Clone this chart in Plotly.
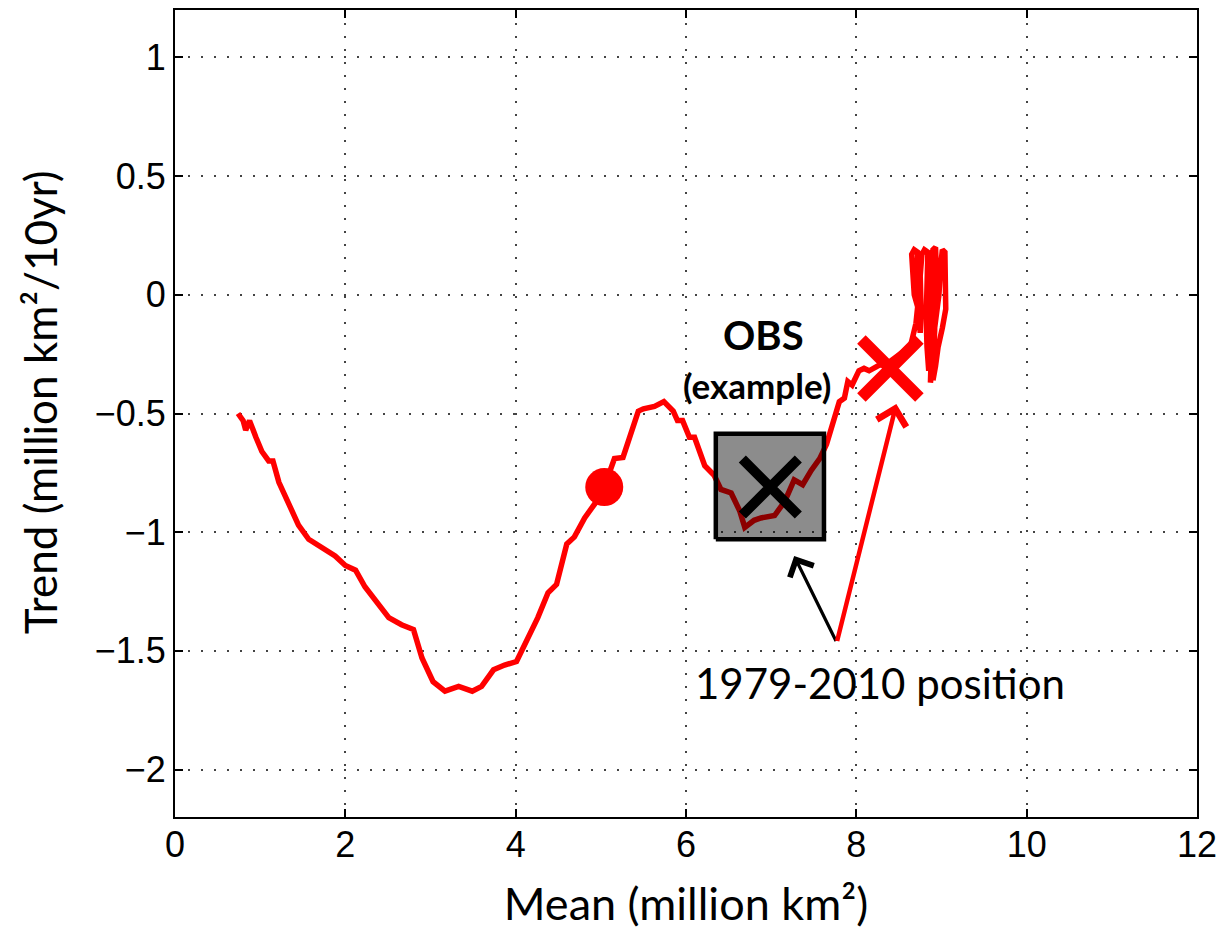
import plotly.graph_objects as go

# ---- data ----
mean_vals = [0.74, 0.80, 0.83, 0.875, 0.95, 1.02, 1.10, 1.15, 1.22, 1.34, 1.45, 1.57, 1.66, 1.78, 1.88,
             2.00, 2.12, 2.23, 2.39, 2.51, 2.66, 2.80, 2.90, 3.03, 3.17, 3.33, 3.49, 3.60, 3.74, 3.87,
             4.01, 4.15, 4.26, 4.38, 4.48, 4.60, 4.69, 4.81, 4.93, 5.05, 5.16, 5.26, 5.40, 5.44, 5.50,
             5.63, 5.74, 5.85, 5.90, 5.96, 6.04, 6.10, 6.22, 6.33, 6.41, 6.53, 6.63, 6.69, 6.80, 6.88,
             7.04, 7.16, 7.27, 7.37, 7.47, 7.57, 7.65, 7.72, 7.80, 7.86, 7.90, 7.95, 8.03, 8.09, 8.15,
             8.25, 8.40, 8.55, 8.64, 8.70, 8.72, 8.68, 8.67, 8.65, 8.68, 8.72, 8.71, 8.73, 8.75, 8.76,
             8.75, 8.77, 8.80, 8.84, 8.83, 8.82, 8.83, 8.85, 8.86, 8.87, 8.88, 8.90, 8.93, 8.94, 8.92,
             8.92, 8.90, 8.87, 8.88, 8.93, 8.97, 8.99, 9.01, 9.04, 9.04, 9.05, 9.01, 8.96, 8.93, 8.90]
trend_vals = [-0.50, -0.53, -0.57, -0.53, -0.60, -0.66, -0.70, -0.70, -0.79, -0.89, -0.97, -1.03, -1.05, -1.08, -1.10,
              -1.14, -1.16, -1.23, -1.30, -1.36, -1.39, -1.41, -1.53, -1.63, -1.67, -1.65, -1.67, -1.65, -1.58, -1.56,
              -1.545, -1.44, -1.36, -1.255, -1.22, -1.05, -1.02, -0.94, -0.88, -0.80, -0.69, -0.685, -0.53, -0.49, -0.48,
              -0.47, -0.45, -0.49, -0.53, -0.53, -0.60, -0.60, -0.72, -0.76, -0.82, -0.835, -0.91, -0.98, -0.95, -0.94,
              -0.93, -0.87, -0.78, -0.80, -0.74, -0.69, -0.63, -0.55, -0.45, -0.435, -0.365, -0.38, -0.32, -0.31, -0.32,
              -0.30, -0.28, -0.24, -0.21, -0.12, -0.05, 0.00, 0.08, 0.17, 0.19, 0.18, 0.05, -0.10, -0.16, -0.05,
              0.08, 0.17, 0.19, 0.18, 0.05, -0.10, -0.22, -0.32, -0.20, -0.05, 0.10, 0.19, 0.20, 0.10, 0.00,
              -0.15, -0.28, -0.37, -0.25, -0.12, 0.00, 0.12, 0.19, 0.18, 0.05, -0.06, -0.14, -0.22, -0.30, -0.36]

dot_point = (5.04, -0.81)            # filled red circle
model_x_point = (8.40, -0.31)        # red cross
obs_point = (6.99, -0.81)            # black cross (observations)
obs_box_x = [6.35, 7.62]             # grey box extent
obs_box_y = [-1.03, -0.585]
label_point = (7.77, -1.465)         # arrow origin / label anchor
black_arrow_head = (7.27, -1.10)
red_arrow_head = (8.47, -0.46)

x_ticks = [0, 2, 4, 6, 8, 10, 12]
y_ticks = [-2, -1.5, -1, -0.5, 0, 0.5, 1]

fig = go.Figure()

fig.add_trace(go.Scatter(x=mean_vals, y=trend_vals, mode="lines",
                         line=dict(color="#ff0000", width=5.5), hoverinfo="skip"))
fig.add_trace(go.Scatter(x=[dot_point[0]], y=[dot_point[1]], mode="markers",
                         marker=dict(color="#ff0000", size=38, line=dict(width=0))))
fig.add_trace(go.Scatter(x=[model_x_point[0]], y=[model_x_point[1]], mode="markers",
                         marker=dict(symbol="x-thin", size=58, color="#ff0000",
                                     line=dict(color="#ff0000", width=12))))
# grey semi-transparent box
bx = [obs_box_x[0], obs_box_x[1], obs_box_x[1], obs_box_x[0], obs_box_x[0]]
by = [obs_box_y[0], obs_box_y[0], obs_box_y[1], obs_box_y[1], obs_box_y[0]]
fig.add_trace(go.Scatter(x=bx, y=by, mode="lines", fill="toself",
                         fillcolor="rgba(0,0,0,0.45)", line=dict(color="black", width=4.5)))
fig.add_trace(go.Scatter(x=[obs_point[0]], y=[obs_point[1]], mode="markers",
                         marker=dict(symbol="x-thin", size=56, color="black",
                                     line=dict(color="black", width=10))))

ann_font = "Lato, 'Open Sans', sans-serif"
fig.add_annotation(x=black_arrow_head[0], y=black_arrow_head[1], ax=label_point[0], ay=label_point[1],
                   xref="x", yref="y", axref="x", ayref="y", showarrow=True, arrowhead=4,
                   arrowsize=1.6, arrowwidth=3.2, arrowcolor="black", text="")
fig.add_annotation(x=red_arrow_head[0], y=red_arrow_head[1], ax=label_point[0], ay=label_point[1],
                   xref="x", yref="y", axref="x", ayref="y", showarrow=True, arrowhead=4,
                   arrowsize=1.3, arrowwidth=4.5, arrowcolor="#ff0000", text="")
fig.add_annotation(x=label_point[0], y=label_point[1], xref="x", yref="y", showarrow=False,
                   text="1979-2010 position", font=dict(family=ann_font, size=42, color="black"),
                   xanchor="center", yanchor="middle", xshift=43, yshift=-40)
fig.add_annotation(x=obs_point[0], y=obs_point[1], xref="x", yref="y", showarrow=False,
                   text="<b>OBS</b>", font=dict(family=ann_font, size=40, color="black"),
                   xanchor="center", yanchor="middle", xshift=-7, yshift=152)
fig.add_annotation(x=obs_point[0], y=obs_point[1], xref="x", yref="y", showarrow=False,
                   text="<b>(example)</b>", font=dict(family=ann_font, size=35, color="black"),
                   xanchor="center", yanchor="middle", xshift=-13, yshift=102)
# y-axis title
fig.add_annotation(x=-0.132, y=0.514, xref="paper", yref="paper", showarrow=False, textangle=-90,
                   text="Trend (million km²/10yr)", font=dict(family=ann_font, size=44, color="black"),
                   xanchor="center", yanchor="middle")

axis_common = dict(showline=True, linecolor="black", linewidth=2, mirror="ticks",
                   ticks="inside", ticklen=8, tickwidth=2, tickcolor="black",
                   showgrid=True, gridcolor="#444444", gridwidth=1.5, griddash="2px,11px",
                   zeroline=False, tickfont=dict(family="Liberation Sans, Arial, sans-serif", size=36, color="black"))

fig.update_xaxes(range=[0, 12], tickvals=x_ticks, ticktext=[str(v) for v in x_ticks],
                 ticklabelstandoff=-5,
                 title=dict(text="Mean (million km²)", font=dict(family=ann_font, size=45, color="black"),
                            standoff=24),
                 **axis_common)
fig.update_yaxes(range=[-2.2, 1.2], tickvals=y_ticks,
                 ticktext=[("−" + str(abs(v)) if v < 0 else str(v)).replace(".0", "") for v in y_ticks],
                 **axis_common)

fig.update_layout(width=1225, height=947, showlegend=False,
                  paper_bgcolor="white", plot_bgcolor="white",
                  margin=dict(l=175, r=25, t=8, b=130))

fig.write_html("out.html")
